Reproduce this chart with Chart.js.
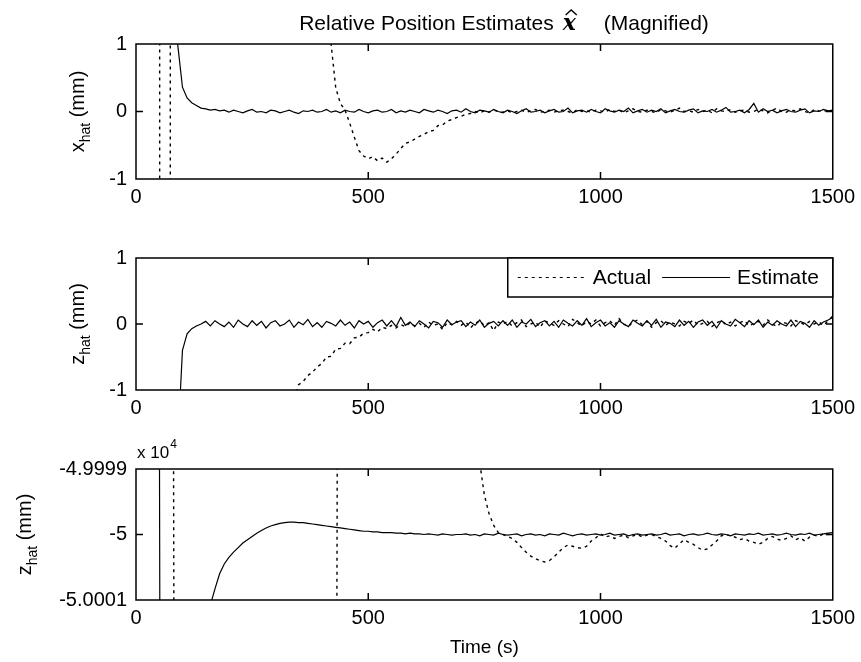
<!DOCTYPE html>
<html>
<head>
<meta charset="utf-8">
<script src="https://cdn.jsdelivr.net/npm/chart.js@4.4.0/dist/chart.umd.min.js"></script>
<style>
  html, body { margin: 0; padding: 0; background: #fff; }
  #lienzo { position: relative; width: 861px; height: 662px; overflow: hidden; background: #fff; }
  #lienzo canvas { position: absolute; left: 0; }
</style>
</head>
<body>
<div id="lienzo">
  <canvas id="graf-x" width="861" height="215" style="top:0px"></canvas>
  <canvas id="graf-z" width="861" height="210" style="top:215px"></canvas>
  <canvas id="graf-zabs" width="861" height="237" style="top:425px"></canvas>
</div>
<script>
// Estimaciones de posición relativa — tres paneles estilo MATLAB

const FUENTE = "'Liberation Sans', Arial, Helvetica, sans-serif";

// rejilla de muestreo (s), cada 10 s
const tiempoS = Array.from({ length: 151 }, (_, i) => i * 10);

const ticksTiempo = [0, 500, 1000, 1500];
const ticksRel    = [-1, 0, 1];
const ticksAbs    = [-50001, -50000, -49999];

// panel 1: x_hat (mm)
const xhatReal = [
  300, 300, 300, 300, 200, 50, -900, -300, 700, 600,
  500, 450, 400, 350, 300, 260, 220, 190, 160, 130,
  110, 90, 75, 60, 50, 40, 32, 26, 21, 17,
  14, 12, 10, 8.5, 7, 6, 5, 4.2, 3.5, 2.9,
  2.4, 1.6, 1.0, 0.35, 0.12, 0.02, -0.17, -0.38, -0.58, -0.66,
  -0.7, -0.67, -0.73, -0.69, -0.75, -0.7, -0.63, -0.55, -0.47, -0.45,
  -0.41, -0.37, -0.34, -0.3, -0.28, -0.21, -0.2, -0.14, -0.12, -0.09,
  -0.07, -0.04, -0.03, 0, -0.02, 0.01, -0.01, 0.02, 0, -0.01,
  0.01, -0.02, 0, 0.02, -0.01, 0.01, 0.03, -0.01, 0, 0.02,
  -0.01, 0.01, 0.02, 0, -0.02, 0.03, 0, 0.01, -0.01, 0.02,
  0.01, -0.01, 0.03, 0, 0.02, -0.02, 0.01, 0.04, 0, -0.01,
  0.02, 0, -0.02, 0.03, 0.01, -0.01, 0.02, 0.05, 0, 0.01,
  -0.01, 0.03, 0, 0.02, -0.02, 0.04, 0.01, 0, 0.03, -0.01,
  0.01, 0.02, -0.01, 0, 0.03, 0.01, -0.02, 0.02, 0.05, 0,
  -0.01, 0.02, 0.01, 0.04, 0, -0.02, 0.03, 0.01, 0, 0.02,
  0.01
];
const xhatEst = [
  40, 35, 30, 25, 20, 16, 12, 9, 5, 0.98,
  0.36, 0.2, 0.13, 0.09, 0.05, 0.04, 0.02, 0.03, 0.01, 0.02,
  -0.01, 0.02, 0, -0.02, 0.01, 0.03, -0.01, 0, -0.02, 0.02,
  0.01, -0.02, 0, 0.02, -0.01, -0.03, 0.01, 0, 0.02, -0.01,
  0, 0.03, -0.01, 0.01, -0.02, 0.02, 0, -0.01, 0.03, 0,
  -0.02, 0.01, 0.02, -0.01, 0, 0.03, -0.02, 0.01, -0.01, 0.02,
  0, -0.02, 0.03, 0.01, -0.01, 0.02, 0, -0.03, 0.01, 0.02,
  -0.01, 0.04, 0, -0.02, 0.02, 0.01, -0.01, 0.03, 0, -0.02,
  0.02, 0, -0.03, 0.01, 0.04, -0.01, 0, 0.02, -0.02, 0.01,
  0.03, -0.01, 0, 0.05, -0.02, 0.01, 0.02, -0.01, 0.03, 0,
  -0.02, 0.04, 0.01, -0.01, 0.02, 0, 0.05, -0.02, 0.01, 0.03,
  -0.01, 0.02, 0, 0.04, -0.02, 0.01, 0.03, 0, -0.01, 0.02,
  0.04, -0.02, 0.01, 0, 0.03, -0.01, 0.02, 0.06, -0.01, 0,
  0.02, -0.02, 0.03, 0.12, -0.01, 0.04, 0, 0.02, -0.02, 0.01,
  0.03, 0, -0.01, 0.02, 0.04, -0.02, 0.01, 0, 0.03, 0.01,
  0.02
];

// panel 2: z_hat (mm)
const zhatReal = [
  -60, -58, -55, -52, -50, -47, -44, -41, -38, -35,
  -32, -29, -26, -23, -20, -18, -16, -14, -12, -10.5,
  -9, -8, -7, -6, -5, -4.5, -4, -3.5, -3, -2.6,
  -2.2, -1.9, -1.6, -1.35, -1.15, -0.92, -0.87, -0.78, -0.73, -0.65,
  -0.6, -0.5, -0.49, -0.38, -0.37, -0.29, -0.3, -0.21, -0.2, -0.14,
  -0.13, -0.08, -0.12, -0.05, -0.07, -0.02, -0.06, -0.01, -0.04, 0.02,
  -0.03, 0.01, -0.05, 0.03, -0.02, 0, -0.08, 0.02, -0.01, 0.04,
  -0.02, 0.03, -0.06, 0.01, 0.05, -0.03, 0.02, -0.1, 0.03, 0,
  0.04, -0.03, 0.02, 0.06, -0.04, 0, 0.03, -0.05, 0.05, 0.01,
  -0.02, 0.05, 0, -0.04, 0.07, 0.02, -0.03, 0.04, 0, 0.06,
  -0.03, 0.02, 0.05, -0.02, 0.08, 0, -0.04, 0.03, 0.06, -0.01,
  0.04, -0.05, 0.02, 0.05, -0.02, 0.03, 0, -0.03, 0.04, 0.01,
  0.06, -0.02, 0.01, 0.04, -0.04, 0.02, 0.05, -0.01, 0.03, -0.03,
  0.02, 0.05, -0.03, 0.01, 0.04, -0.02, 0.06, 0, -0.04, 0.03,
  0.01, -0.03, 0.05, 0.02, -0.01, 0.04, 0, 0.03, -0.02, 0.05,
  0.12
];
const zhatEst = [
  -40, -35, -30, -25, -20, -15, -10, -7, -4, -1.8,
  -0.4, -0.15, -0.07, -0.03, 0, 0.04, -0.03, 0.05, 0, -0.04,
  0.03, -0.05, 0.06, 0, -0.04, 0.05, -0.02, 0.04, -0.06, 0.02,
  0.05, -0.03, 0, 0.06, -0.05, 0.03, -0.01, 0.07, -0.04, 0.02,
  -0.05, 0.04, 0.01, -0.03, 0.06, -0.02, 0.03, -0.06, 0.05, 0,
  0.04, -0.05, 0.02, 0.06, -0.03, 0.05, -0.04, 0.1, -0.02, 0.03,
  -0.04, 0.05, 0, -0.06, 0.04, 0.02, -0.05, 0.06, -0.01, 0.03,
  0.05, -0.04, 0.03, -0.02, 0.06, -0.05, 0.01, 0.04, -0.03, 0.05,
  -0.02, 0.06, -0.05, 0.03, 0, 0.07, -0.04, 0.02, 0.05, -0.03,
  0.04, -0.05, 0.06, 0.01, -0.03, 0.05, -0.02, 0.08, -0.04, 0.02,
  0.06, -0.03, 0.02, -0.05, 0.05, 0, -0.04, 0.06, 0.01, -0.03,
  0.05, -0.02, 0.07, -0.05, 0.03, 0.01, -0.04, 0.06, -0.02, 0.04,
  -0.05, 0.03, 0.06, -0.02, 0.04, -0.06, 0.05, 0, -0.03, 0.07,
  0.02, -0.04, 0.05, -0.01, 0.06, -0.05, 0.03, -0.02, 0.05, 0,
  -0.03, 0.06, -0.04, 0.04, 0.01, -0.05, 0.05, -0.02, 0.03, 0.06,
  0.1
];

// panel 3: z_hat absoluto (mm), eje en x 10^4
const zAbsReal = [
  -49990, -49990, -49990, -49991, -49992, -49993, -49994, -49995, -49996, -50030,
  -50030, -50032, -50034, -50035, -50036, -50037, -50038, -50038, -50039, -50039,
  -50040, -50040, -50040, -50039, -50039, -50038, -50038, -50037, -50036, -50035,
  -50034, -50033, -50032, -50031, -50030, -50028, -50026, -50024, -50022, -50020,
  -50016, -50013, -50010, -50008, -49980, -49981, -49982, -49983, -49984, -49985,
  -49986, -49987, -49988, -49989, -49990, -49991, -49992, -49992, -49993, -49993,
  -49994, -49994, -49995, -49995, -49996, -49996, -49997, -49997, -49997.5, -49998,
  -49998.2, -49998.4, -49998.6, -49998.75, -49998.9, -49999.4, -49999.68, -49999.86, -49999.97, -50000,
  -50000.03, -50000.06, -50000.12, -50000.2, -50000.27, -50000.33, -50000.37, -50000.4, -50000.42, -50000.4,
  -50000.34, -50000.27, -50000.2, -50000.16, -50000.18, -50000.2, -50000.21, -50000.18, -50000.1, -50000.05,
  -49999.99, -50000.04, -50000.02, -50000.06, -50000.03, -50000.01, -50000.05, -50000.02, -50000, -50000.04,
  -50000.01, -50000, -50000.03, -50000.06, -50000.1, -50000.17, -50000.21, -50000.14, -50000.08, -50000.12,
  -50000.15, -50000.2, -50000.24, -50000.22, -50000.16, -50000.1, -50000.02, -50000, -50000.02, -50000.04,
  -50000.08, -50000.06, -50000.1, -50000.12, -50000.15, -50000.12, -50000.06, -50000.03, -50000.07, -50000.09,
  -50000.06, -50000.02, -50000.08, -50000.05, -50000.1, -50000.04, -50000.01, -50000.03, -49999.99, -50000,
  -49999.98
];
const zAbsEst = [
  -49990, -49990, -49991, -49992, -49993, -49997, -50030, -50028, -50026, -50024,
  -50020, -50016, -50012, -50009, -50007, -50005, -50001.08, -50000.83, -50000.6, -50000.45,
  -50000.35, -50000.27, -50000.2, -50000.13, -50000.08, -50000.03, -49999.98, -49999.94, -49999.9, -49999.87,
  -49999.85, -49999.83, -49999.82, -49999.81, -49999.81, -49999.82, -49999.82, -49999.83, -49999.84, -49999.85,
  -49999.86, -49999.87, -49999.88, -49999.89, -49999.9, -49999.91, -49999.92, -49999.93, -49999.94, -49999.95,
  -49999.95, -49999.96, -49999.96, -49999.97, -49999.97, -49999.97, -49999.98, -49999.98, -49999.99, -49999.98,
  -49999.99, -49999.99, -50000, -49999.99, -50000, -50000.01, -49999.99, -50000, -50000.01, -50000,
  -50000, -49999.99, -50000.01, -50000, -50000.02, -49999.99, -50000, -50000.01, -49999.98, -50000,
  -50000.01, -50000, -49999.99, -50000.02, -50000, -49999.99, -50000.01, -50000, -50000.02, -49999.99,
  -50000, -50000.01, -49999.98, -50000, -50000.02, -50000, -49999.99, -50000.01, -50000, -49999.99,
  -50000.01, -50000, -49999.98, -50000.01, -50000, -49999.99, -50000.02, -50000, -49999.99, -50000.01,
  -50000, -49999.99, -50000.01, -50000, -49999.98, -50000.01, -50000, -49999.99, -50000.02, -50000,
  -49999.99, -50000.01, -50000, -49999.98, -50000, -50000.01, -49999.99, -50000, -50000.02, -49999.99,
  -50000, -50000.01, -49999.99, -50000, -49999.98, -50000.01, -50000, -49999.99, -50000.01, -50000,
  -49999.98, -50000, -50000.01, -49999.99, -50000, -49999.98, -50000.01, -50000, -49999.99, -49999.98,
  -49999.97
];

// caja cerrada + marcas hacia dentro, como MATLAB
const marcoMatlab = {
  id: 'marcoMatlab',
  afterDatasetsDraw(chart) {
    const { ctx, chartArea: a, scales } = chart;
    ctx.save();
    ctx.strokeStyle = '#000';
    ctx.lineWidth = 1.5;
    ctx.strokeRect(a.left, a.top, a.right - a.left, a.bottom - a.top);
    ctx.beginPath();
    scales.x.ticks.forEach(t => {
      const px = scales.x.getPixelForValue(t.value);
      if (px <= a.left + 1 || px >= a.right - 1) return;
      ctx.moveTo(px, a.bottom); ctx.lineTo(px, a.bottom - 7);
      ctx.moveTo(px, a.top);    ctx.lineTo(px, a.top + 7);
    });
    scales.y.ticks.forEach(t => {
      const py = scales.y.getPixelForValue(t.value);
      if (py <= a.top + 1 || py >= a.bottom - 1) return;
      ctx.moveTo(a.left, py);  ctx.lineTo(a.left + 7, py);
      ctx.moveTo(a.right, py); ctx.lineTo(a.right - 7, py);
    });
    ctx.stroke();
    ctx.restore();
  }
};

// etiqueta Y con subíndice "hat"
const etiquetaY = {
  id: 'etiquetaY',
  afterDraw(chart, args, o) {
    if (!o.base) return;
    const { ctx, chartArea: a } = chart;
    const fGrande = `20px ${FUENTE}`, fSub = `14px ${FUENTE}`;
    ctx.save();
    ctx.fillStyle = '#000';
    ctx.textBaseline = 'alphabetic';
    ctx.font = fGrande;
    const wBase = ctx.measureText(o.base).width;
    const wResto = ctx.measureText(o.resto).width;
    ctx.font = fSub;
    const wSub = ctx.measureText(o.sub).width;
    ctx.translate(o.x, (a.top + a.bottom) / 2);
    ctx.rotate(-Math.PI / 2);
    let cx = -(wBase + wSub + wResto) / 2;
    ctx.font = fGrande; ctx.fillText(o.base, cx, 0); cx += wBase;
    ctx.font = fSub;    ctx.fillText(o.sub, cx, 6); cx += wSub;
    ctx.font = fGrande; ctx.fillText(o.resto, cx, 0);
    ctx.restore();
  }
};

// título con x sombrero
const tituloMatlab = {
  id: 'tituloMatlab',
  afterDraw(chart, args, o) {
    if (!o.antes) return;
    const { ctx } = chart;
    const fTexto = `21px ${FUENTE}`, fMat = `bold italic 22px 'DejaVu Serif', serif`;
    ctx.save();
    ctx.fillStyle = '#000';
    ctx.textBaseline = 'alphabetic';
    ctx.font = fTexto;
    const w1 = ctx.measureText(o.antes).width;
    const w3 = ctx.measureText(o.despues).width;
    ctx.font = fMat;
    const w2 = ctx.measureText(o.mat).width;
    let cx = o.centro - (w1 + o.hueco1 + w2 + o.hueco2 + w3) / 2;
    ctx.font = fTexto; ctx.fillText(o.antes, cx, o.y); cx += w1 + o.hueco1;
    ctx.font = fMat;   ctx.fillText(o.mat, cx, o.y);
    // sombrero
    ctx.lineWidth = 1.4;
    ctx.beginPath();
    ctx.moveTo(cx + 3, o.y - 15); ctx.lineTo(cx + w2 / 2 + 2, o.y - 20); ctx.lineTo(cx + w2 + 1, o.y - 15);
    ctx.stroke();
    cx += w2 + o.hueco2;
    ctx.font = fTexto; ctx.fillText(o.despues, cx, o.y);
    ctx.restore();
  }
};

// leyenda con marco dentro del área
const leyendaCaja = {
  id: 'leyendaCaja',
  afterDatasetsDraw(chart, args, o) {
    if (!o.ancho) return;
    const { ctx, chartArea: a } = chart;
    const x0 = a.right - o.ancho, y0 = a.top;
    ctx.save();
    ctx.fillStyle = '#fff';
    ctx.fillRect(x0, y0, o.ancho, o.alto);
    ctx.strokeStyle = '#000';
    ctx.lineWidth = 1.5;
    ctx.strokeRect(x0, y0, o.ancho, o.alto);
    ctx.font = `21px ${FUENTE}`;
    ctx.textBaseline = 'middle';
    ctx.fillStyle = '#000';
    const cy = y0 + o.alto / 2;
    let cx = x0 + 10;
    chart.data.datasets.forEach(ds => {
      ctx.lineWidth = 1;
      ctx.setLineDash(ds.borderDash || []);
      ctx.beginPath(); ctx.moveTo(cx, cy); ctx.lineTo(cx + 68, cy); ctx.stroke();
      ctx.setLineDash([]);
      cx += 75;
      ctx.fillText(ds.label, cx, cy + 1);
      cx += ctx.measureText(ds.label).width + 11;
    });
    ctx.restore();
  }
};

// "x 10^4" sobre el eje Y del panel 3
const multiplicador = {
  id: 'multiplicador',
  afterDraw(chart, args, o) {
    if (!o.exp) return;
    const { ctx, chartArea: a } = chart;
    ctx.save();
    ctx.fillStyle = '#000';
    ctx.textBaseline = 'alphabetic';
    ctx.font = `17px ${FUENTE}`;
    ctx.fillText('x 10', a.left + 1, a.top - 11);
    const w = ctx.measureText('x 10').width;
    ctx.font = `12px ${FUENTE}`;
    ctx.fillText(o.exp, a.left + 2 + w, a.top - 21);
    ctx.restore();
  }
};

function serie(label, valores, dash, grosor) {
  return {
    label,
    data: tiempoS.map((t, i) => ({ x: t, y: valores[i] })),
    borderColor: '#000',
    borderWidth: grosor,
    borderDash: dash,
    pointRadius: 0,
    tension: 0,
    fill: false
  };
}

function crearGrafico(id, cfg) {
  const fuenteTicks = { family: FUENTE, size: 20 };
  return new Chart(document.getElementById(id), {
    type: 'line',
    data: { datasets: [ serie('Actual', cfg.real, [3, 4], 1.4), serie('Estimate', cfg.est, [], 1.2) ] },
    options: {
      responsive: false,
      animation: false,
      devicePixelRatio: 1,
      layout: { padding: { top: cfg.padTop, right: 24, bottom: 0, left: 0 } },
      scales: {
        x: {
          type: 'linear', min: 0, max: 1500,
          afterBuildTicks: s => { s.ticks = ticksTiempo.map(v => ({ value: v })); },
          ticks: { color: '#000', font: fuenteTicks, padding: cfg.padTicksX, maxRotation: 0, autoSkip: false,
                   callback: v => String(v) },
          grid: { display: false, drawTicks: false },
          border: { display: false },
          title: cfg.tituloX
            ? { display: true, text: cfg.tituloX, color: '#000', font: { family: FUENTE, size: 19 }, padding: { top: 0, bottom: 3 } }
            : { display: false },
          afterFit: s => { s.height = cfg.altoX; }
        },
        y: {
          type: 'linear', min: cfg.ticksY[0], max: cfg.ticksY[cfg.ticksY.length - 1],
          afterBuildTicks: s => { s.ticks = cfg.ticksY.map(v => ({ value: v })); },
          ticks: { color: '#000', font: fuenteTicks, padding: 9, callback: cfg.fmtY },
          grid: { display: false, drawTicks: false },
          border: { display: false },
          afterFit: s => { s.width = 136; }
        }
      },
      plugins: {
        legend: { display: false },
        tooltip: { enabled: false },
        etiquetaY: cfg.etiqueta,
        tituloMatlab: cfg.titulo || {},
        leyendaCaja: cfg.leyenda || {},
        multiplicador: cfg.mult || {}
      }
    },
    plugins: [marcoMatlab, leyendaCaja, etiquetaY, tituloMatlab, multiplicador]
  });
}

crearGrafico('graf-x', {
  real: xhatReal, est: xhatEst, ticksY: ticksRel, fmtY: v => String(v),
  padTop: 44, altoX: 36, padTicksX: 6,
  etiqueta: { base: 'x', sub: 'hat', resto: ' (mm)', x: 84 },
  titulo: { antes: 'Relative Position Estimates', mat: 'x', despues: '(Magnified)',
            hueco1: 9, hueco2: 28, centro: 504, y: 30 }
});

crearGrafico('graf-z', {
  real: zhatReal, est: zhatEst, ticksY: ticksRel, fmtY: v => String(v),
  padTop: 43, altoX: 35, padTicksX: 6,
  etiqueta: { base: 'z', sub: 'hat', resto: ' (mm)', x: 84 },
  leyenda: { ancho: 325, alto: 39 }
});

crearGrafico('graf-zabs', {
  real: zAbsReal, est: zAbsEst, ticksY: ticksAbs, fmtY: v => String(+(v / 1e4).toFixed(4)),
  padTop: 44, altoX: 62, padTicksX: 6, tituloX: 'Time (s)',
  etiqueta: { base: 'z', sub: 'hat', resto: ' (mm)', x: 31 },
  mult: { exp: '4' }
});
</script>
</body>
</html>
